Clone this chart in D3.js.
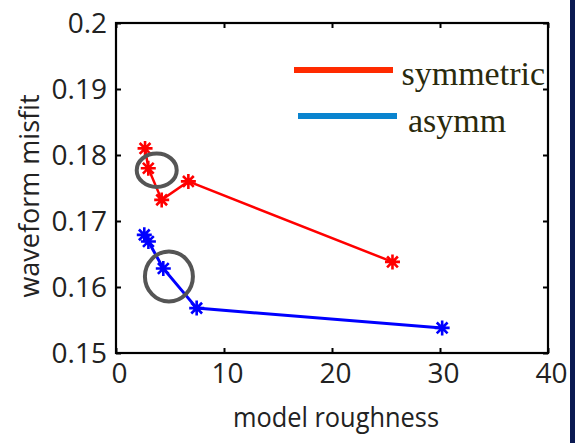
<!DOCTYPE html>
<html><head><meta charset="utf-8">
<script src="https://cdn.jsdelivr.net/npm/d3@7"></script>
<style>html,body{margin:0;padding:0;background:#fff;overflow:hidden}</style>
</head><body>
<svg id="chart" width="575" height="443"></svg>
<script>
// ---- data ----
const symX = [2.69, 2.99, 4.23, 6.7, 25.6];
const symY = [0.181, 0.178, 0.1732, 0.176, 0.1638];
const asyX = [2.62, 3.0, 4.38, 7.47, 30.2];
const asyY = [0.1679, 0.1669, 0.1628, 0.1568, 0.1538];
const xTicks = [0, 10, 20, 30, 40];
const yTicks = [0.15, 0.16, 0.17, 0.18, 0.19, 0.2];
const yTickLabels = ["0.15", "0.16", "0.17", "0.18", "0.19", "0.2"];
const seriesNames = ["symmetric", "asymm"];
// highlighted points (annotation circles), in data coords
const highlightX = [3.77, 4.9];
const highlightY = [0.1777, 0.1616];

const svg = d3.select("#chart");
const L = 116, R = 548, T = 23, B = 353;
const x = d3.scaleLinear().domain([0, 40]).range([L, R]);
const y = d3.scaleLinear().domain([0.15, 0.2]).range([B, T]);

// navy band on right
svg.append("rect").attr("x", 570).attr("y", 0).attr("width", 5).attr("height", 443).attr("fill", "#0b1a52");

const font = "'Open Sans', sans-serif";

// axes with inward ticks
const gx = svg.append("g").attr("transform", `translate(0,${B})`)
  .call(d3.axisBottom(x).tickValues(xTicks).tickSize(-5).tickSizeOuter(0).tickPadding(10));
const gxt = svg.append("g").attr("transform", `translate(0,${T})`)
  .call(d3.axisTop(x).tickValues(xTicks).tickSize(-5).tickSizeOuter(0).tickFormat(""));
const gy = svg.append("g").attr("transform", `translate(${L},0)`)
  .call(d3.axisLeft(y).tickValues(yTicks).tickSize(-5).tickSizeOuter(0).tickPadding(9).tickFormat((d,i)=>yTickLabels[i]));
const gyr = svg.append("g").attr("transform", `translate(${R},0)`)
  .call(d3.axisRight(y).tickValues(yTicks).tickSize(-5).tickSizeOuter(0).tickFormat(""));
[gx, gxt, gy, gyr].forEach(g => {
  g.select(".domain").remove();
  g.selectAll(".tick line").attr("stroke", "#000").attr("stroke-width", 2);
  g.selectAll("text").attr("font-family", font).attr("font-size", 28).attr("fill", "#222");
});
gx.selectAll("text").attr("dx", 3);
gy.selectAll("text").attr("dy", "0.35em");

// series
const colors = ["#ff0000", "#0000ff"];
const widths = [2.5, 3];
const data = [
  symX.map((v, i) => [v, symY[i]]),
  asyX.map((v, i) => [v, asyY[i]])
];
const line = d3.line().x(d => x(d[0])).y(d => y(d[1]));
const star = (s) => {
  const a = s / 2, b = a * 0.72;
  return `M${-a},0L${a},0M0,${-a}L0,${a}M${-b},${-b}L${b},${b}M${-b},${b}L${b},${-b}`;
};
data.forEach((pts, k) => {
  svg.append("path").attr("d", line(pts)).attr("fill", "none")
    .attr("stroke", colors[k]).attr("stroke-width", widths[k]);
  svg.append("g").selectAll("path").data(pts).join("path")
    .attr("transform", d => `translate(${x(d[0])},${y(d[1])})`)
    .attr("d", star(15)).attr("stroke", colors[k]).attr("stroke-width", 2.6).attr("fill", "none");
});

// legend
const legColors = ["#ff2a00", "#0a84cf"];
const legLine = [[294, 393, 70], [298, 397, 116]];
const legText = [[401.5, 85], [408, 131.5]];
seriesNames.forEach((n, i) => {
  svg.append("line").attr("x1", legLine[i][0]).attr("x2", legLine[i][1])
    .attr("y1", legLine[i][2]).attr("y2", legLine[i][2])
    .attr("stroke", legColors[i]).attr("stroke-width", 6);
  svg.append("text").attr("x", legText[i][0]).attr("y", legText[i][1])
    .attr("font-family", "'Liberation Serif', 'Times New Roman', serif")
    .attr("font-size", 34).attr("fill", "#2a2a0c").text(n);
});

// frame
svg.append("rect").attr("x", L).attr("y", T).attr("width", R - L).attr("height", B - T)
  .attr("fill", "none").attr("stroke", "#000").attr("stroke-width", 2.2);

// annotation circles
const hr = [[20, 16.7], [24, 25]];
highlightX.forEach((hx, i) => {
  svg.append("ellipse").attr("cx", x(hx)).attr("cy", y(highlightY[i]))
    .attr("rx", hr[i][0]).attr("ry", hr[i][1])
    .attr("fill", "none").attr("stroke", "#555").attr("stroke-width", 4);
});

// axis titles
svg.append("text").attr("x", 336).attr("y", 427).attr("text-anchor", "middle")
  .attr("font-family", font).attr("font-size", 28).attr("fill", "#222")
  .attr("textLength", 206).attr("lengthAdjust", "spacingAndGlyphs").text("model roughness");
svg.append("text").attr("transform", "translate(39,196) rotate(-90)").attr("text-anchor", "middle")
  .attr("font-family", font).attr("font-size", 27).attr("fill", "#222").text("waveform misfit");
</script>
</body></html>
